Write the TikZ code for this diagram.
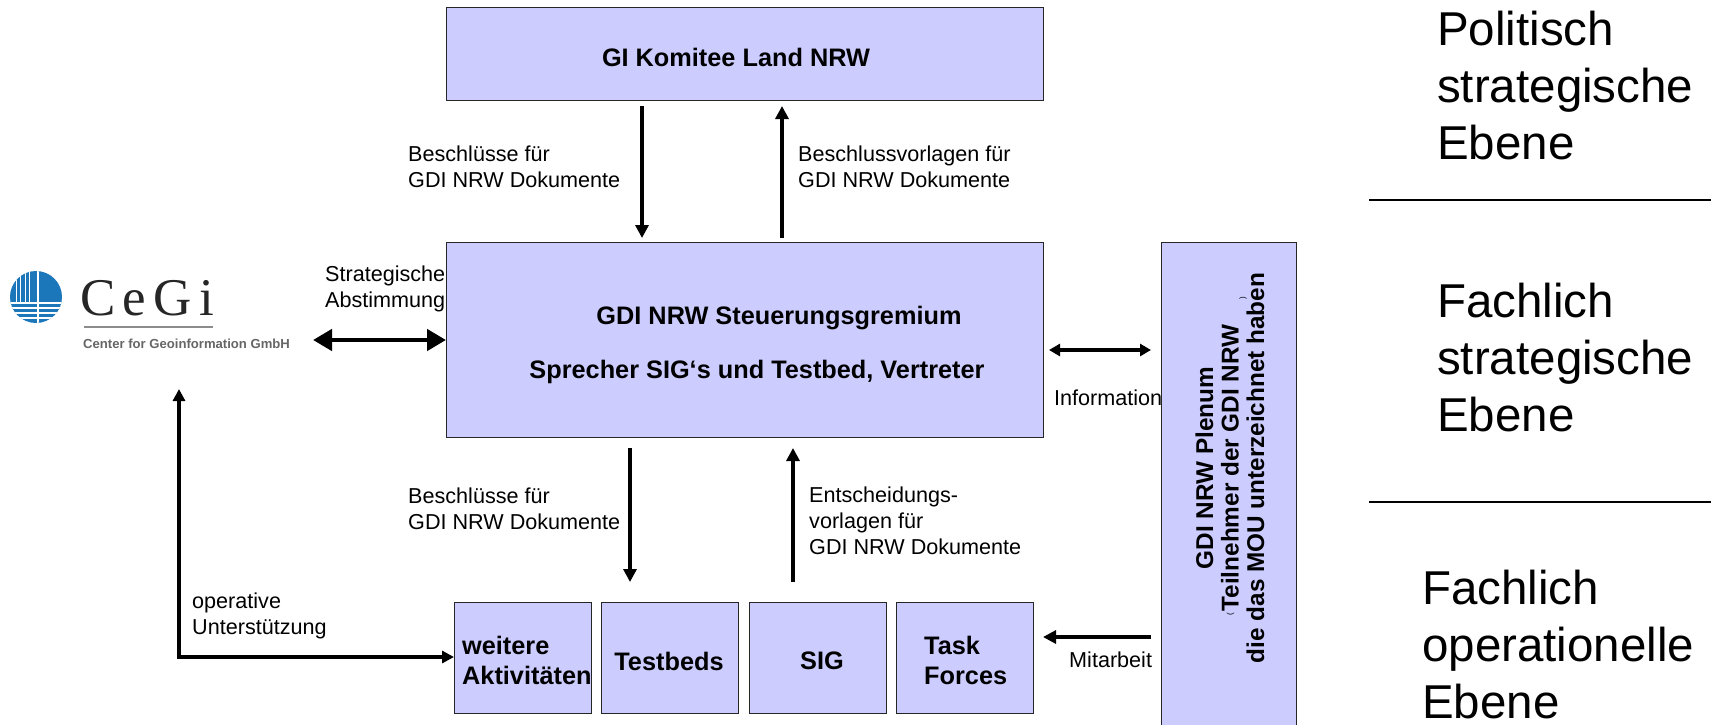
\documentclass[tikz,border=0pt]{standalone}
\usepackage{fontspec}
\setmainfont{Liberation Sans}
\newfontfamily\logoserif{Liberation Serif}
\usetikzlibrary{arrows.meta}
\definecolor{boxblue}{HTML}{CCCCFF}
\definecolor{logoblue}{HTML}{1B76BA}
\tikzset{
  box/.style={draw=black!85,line width=1.2pt,fill=boxblue,minimum width=0pt,inner sep=0pt},
  boldtxt/.style={font=\fontsize{25.3}{30}\selectfont\bfseries,align=left,inner sep=0pt},
  lab/.style={font=\fontsize{21.6}{25.6}\selectfont,align=left,inner sep=0pt,anchor=north west},
  lev/.style={font=\fontsize{47.5}{57}\selectfont,align=left,inner sep=0pt,anchor=north west},
  thick arrow/.style={line width=3.2pt,-{Triangle[length=13pt,width=13pt]}},
  heavy both/.style={line width=4.5pt,{Triangle[length=19pt,width=21pt]}-{Triangle[length=19pt,width=21pt]},shorten <=0pt,shorten >=0pt},
  info both/.style={line width=3.2pt,{Triangle[length=11pt,width=12pt]}-{Triangle[length=11pt,width=12pt]}},
  sep/.style={line width=1.4pt,black}
}
\newcommand{\bx}[5]{\node[box,minimum width=#4pt-#2pt,minimum height=#5pt-#3pt,anchor=north west] (#1) at (#2,#3) {};}
\begin{document}
\begin{tikzpicture}[x=1pt,y=-1pt]
\useasboundingbox (0,0) rectangle (1711,724);
\fill[white] (0,0) rectangle (1711,724);
% boxes
\bx{gi}{446}{7}{1043}{100}
\bx{st}{446}{242}{1043}{437}
\begin{scope}
\clip (0,0) rectangle (1711,724);
\bx{pl}{1161}{242}{1296}{740}
\end{scope}
\bx{wa}{454}{602}{591}{713}
\bx{tb}{601}{602}{738}{713}
\bx{sg}{749}{602}{886}{713}
\bx{tf}{896}{602}{1033}{713}
% box text
\node[boldtxt,anchor=center] (gitxt) at (736,57) {GI Komitee Land NRW};
\node[boldtxt,anchor=center] (st1) at (779,318) {GDI NRW Steuerungsgremium};
\node[boldtxt,anchor=center] (st2) at (757,372) {Sprecher SIG‘s und Testbed, Vertreter};
\node[boldtxt,anchor=west] (watxt) at (462,660) {weitere\\Aktivitäten};
\node[boldtxt,anchor=center] (tbtxt) at (669,661) {Testbeds};
\node[boldtxt,anchor=center] (sgtxt) at (822,661) {SIG};
\node[boldtxt,anchor=west] (tftxt) at (924,660) {Task\\Forces};
\node[inner sep=0pt,rotate=90,align=center,font=\fontsize{24.3}{25.5}\selectfont\bfseries] (pltxt) at (1230,468)
  {GDI NRW Plenum\\\llap{\raisebox{6pt}{\fontsize{8}{8}\selectfont\mdseries(\,}}Teilnehmer der GDI NRW\\die das MOU unterzeichnet haben};
\node[inner sep=0pt,rotate=90,font=\fontsize{8}{8}\selectfont] (plclose) at (1243,298) {)};
% labels
\node[lab] (l1) at (408,146) {Beschlüsse für\\GDI NRW Dokumente};
\node[lab] (l2) at (798,146) {Beschlussvorlagen für\\GDI NRW Dokumente};
\node[lab] (l3) at (325,266) {Strategische\\Abstimmung};
\node[lab] (l4) at (1054,390) {Information};
\node[lab] (l5) at (408,488) {Beschlüsse für\\GDI NRW Dokumente};
\node[lab] (l6) at (809,487) {Entscheidungs-\\vorlagen für\\GDI NRW Dokumente};
\node[lab] (l7) at (192,593) {operative\\Unterstützung};
\node[lab] (l8) at (1069,652) {Mitarbeit};
% levels
\node[lev] (v1) at (1437,11) {Politisch\\strategische\\Ebene};
\node[lev] (v2) at (1437,283) {Fachlich\\strategische\\Ebene};
\node[lev] (v3) at (1422,570) {Fachlich\\operationelle\\Ebene};
\coordinate (s1a) at (1369,200); \coordinate (s1b) at (1711,200);
\coordinate (s2a) at (1369,502); \coordinate (s2b) at (1711,502);
\draw[sep] (s1a) -- (s1b);
\draw[sep] (s2a) -- (s2b);
% logo
\begin{scope}
\clip (36,297) circle (26);
\fill[logoblue] (10,271) rectangle (62,323);
\foreach \x in {16,20.5,25,29.5} \draw[white,line width=0.9pt] (\x,270) -- (\x,303);
\draw[white,line width=1.5pt] (38,270) -- (38,324);
\foreach \y in {303,308,313,318} \draw[white,line width=1.2pt] (9,\y) -- (63,\y);
\end{scope}
\node[inner sep=0pt,anchor=base west,font=\fontsize{53}{53}\selectfont\logoserif,text=black!85] (cegi) at (80,315) {C\kern7.3pt e\kern7.3pt G\kern7.3pt i};
\coordinate (ra) at (84,327); \coordinate (rb) at (213,327);
\draw[black!45,line width=1.2pt] (ra) -- (rb);
\node[inner sep=0pt,anchor=base west,font=\fontsize{13.1}{13}\selectfont\bfseries,text=black!60] (cfg) at (83,348) {Center for Geoinformation GmbH};
% connectors
\coordinate (a1s) at (642,106); \coordinate (a1e) at (642,238);
\coordinate (a2s) at (782,238); \coordinate (a2e) at (782,106);
\coordinate (a3s) at (630,448); \coordinate (a3e) at (630,582);
\coordinate (a4s) at (793,582); \coordinate (a4e) at (793,448);
\coordinate (h1) at (313,340); \coordinate (h2) at (446,340);
\coordinate (i1) at (1049,350); \coordinate (i2) at (1151,350);
\coordinate (m1) at (1151,637); \coordinate (m2) at (1043,637);
\coordinate (o1) at (179,389); \coordinate (o2) at (179,657);
\draw[thick arrow] (a1s) -- (a1e);
\draw[thick arrow] (a2s) -- (a2e);
\draw[thick arrow] (a3s) -- (a3e);
\draw[thick arrow] (a4s) -- (a4e);
\draw[heavy both] (h1) -- (h2);
\draw[info both] (i1) -- (i2);
\draw[thick arrow] (m1) -- (m2);
\draw[line width=3.6pt,{Triangle[length=12pt,width=12pt]}-{Triangle[length=12pt,width=12pt]},line join=miter] (o1) -- (o2) -- (wa.west |- o2);
\end{tikzpicture}
\end{document}
